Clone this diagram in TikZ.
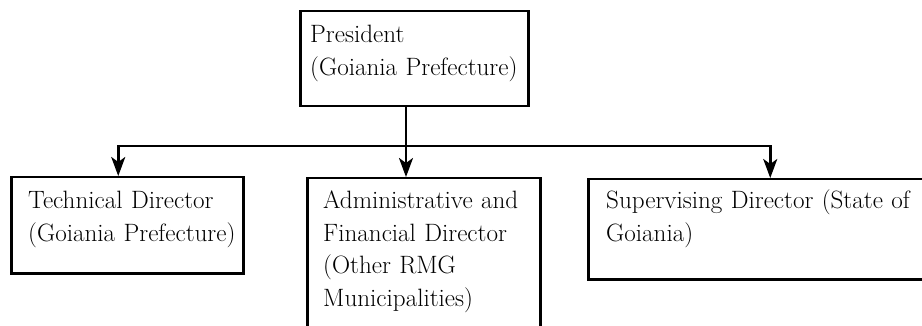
\documentclass[tikz,border=0pt]{standalone}
\usepackage{fontspec}
\setmainfont{Latin Modern Roman}
\usetikzlibrary{arrows.meta}

\tikzset{
  orgbox/.style={draw, line width=2.5pt, inner sep=0pt, anchor=north west},
  orgtext/.style={inner sep=0pt, anchor=base west, text width=360pt, align=left,
    font=\fontsize{25.1}{32.5}\selectfont},
  link/.style={line width=2.5pt, -{Stealth[length=19pt,width=14pt,inset=5pt]}}
}

\begin{document}
\begin{tikzpicture}[x=1pt, y=-1pt]
  \useasboundingbox (0,0) rectangle (922,326);

  % boxes
  \node[orgbox, minimum width=228pt, minimum height=95pt]  (pres)  at (299,10)  {};
  \node[orgbox, minimum width=232pt, minimum height=96pt]  (tech)  at (10,176)  {};
  \node[orgbox, minimum width=233pt, minimum height=170pt] (admin) at (306,177) {};
  \node[orgbox, minimum width=353pt, minimum height=100pt] (sup)   at (587,178) {};

  % labels
  \node[orgtext] (prestxt)  at (310,43)  {President\\(Goiania Prefecture)};
  \node[orgtext] (techtxt)  at (28,209)  {Technical Director\\(Goiania Prefecture)};
  \node[orgtext] (admintxt) at (323,209) {Administrative and\\Financial Director\\(Other RMG\\Municipalities)};
  \node[orgtext] (suptxt)   at (606,209) {Supervising Director (State of\\Goiania)};

  % distribution bar
  \coordinate (bar) at (406,146);
  \draw[link] (bar |- pres.south) -- (bar |- admin.north);
  \draw[link] (bar) -| ([xshift=-9pt]tech.north);
  \draw[link] (bar) -| ([xshift=5.5pt]sup.north);
\end{tikzpicture}
\end{document}
